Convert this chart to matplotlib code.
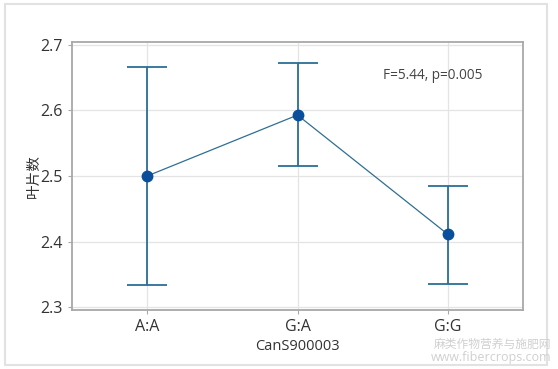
import matplotlib.pyplot as plt
from matplotlib.patches import Rectangle

plt.rcParams['font.family'] = ['Open Sans', 'Noto Sans CJK SC', 'DejaVu Sans']

groups = ["A:A", "G:A", "G:G"]
means = [2.500, 2.593, 2.411]
upper = [2.667, 2.672, 2.485]
lower = [2.333, 2.515, 2.335]

err_lo = [m - l for m, l in zip(means, lower)]
err_hi = [u - m for u, m in zip(upper, means)]
x = list(range(len(groups)))

fig = plt.figure(figsize=(5.58, 3.69), dpi=100)
ax = fig.add_axes([72 / 558, 1 - 310 / 369, 451 / 558, 268 / 369])

# outer frame
fig.patches.append(Rectangle((5 / 558, 1 - 365 / 369), 542 / 558, 361 / 369,
                             transform=fig.transFigure, fill=False,
                             edgecolor='#e2e2e2', linewidth=1.5))

ax.errorbar(x, means, yerr=[err_lo, err_hi], fmt='none', ecolor='#2a6e96',
            elinewidth=1.3, capsize=14.5, capthick=1.3, zorder=3)
ax.plot(x, means, color='#2f6f92', linewidth=0.9, zorder=3)
ax.plot(x, means, 'o', color='#0a4f9c', markersize=7.5, zorder=4)

ax.set_xlim(-0.5, 2.5)
ax.set_ylim(2.2955, 2.7045)
ax.set_yticks([2.3, 2.4, 2.5, 2.6, 2.7])
ax.set_xticks(x)
ax.set_xticklabels(groups)
ax.grid(True, color='#e4e4e4', linewidth=0.9)
ax.set_axisbelow(True)

for s in ax.spines.values():
    s.set_color('#a8a8a8')
    s.set_linewidth(1.3)
ax.tick_params(colors='#a8a8a8', labelcolor='#333333', labelsize=11.5, length=3)

ax.set_ylabel("叶片数", fontsize=10.5, color='#333333')
ax.yaxis.set_label_coords(-0.066, 0.5)
ax.set_xlabel("CanS900003", fontsize=10.5, color='#333333', labelpad=3)

ax.text(0.69, 0.875, "F=5.44, p=0.005", transform=ax.transAxes, fontsize=9.8,
        color='#444444', va='center')

fig.text(551 / 558, 1 - 344 / 369, "麻类作物营养与施肥网", ha='right', va='center',
         fontsize=8.5, color='#d0d0d0')
fig.text(551 / 558, 1 - 357 / 369, "www.fibercrops.com", ha='right', va='center',
         fontsize=9, color='#d0d0d0')

fig.savefig("out.png", dpi=100)
